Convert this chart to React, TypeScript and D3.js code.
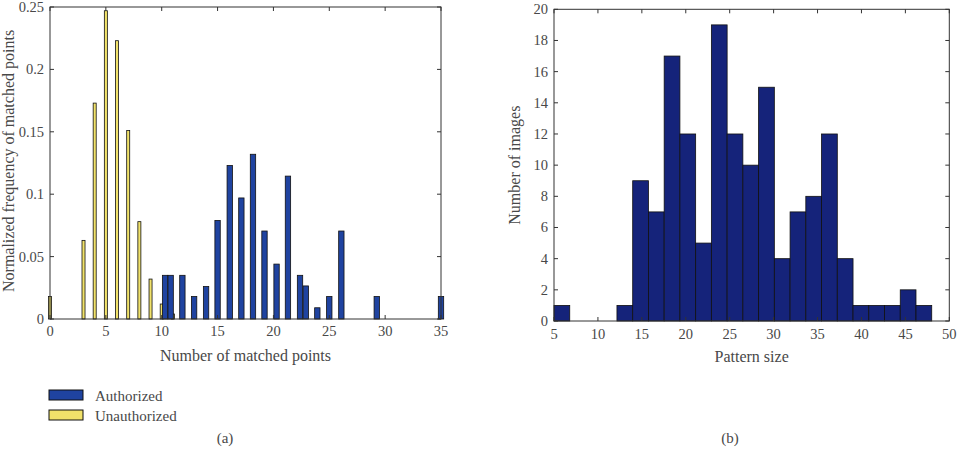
import React from "react";
import * as d3 from "d3";

// Panel (a): unauthorized histogram (integer positions)
const unauthX = [0, 1, 2, 3, 4, 5, 6, 7, 8, 9, 10, 11, 12, 13, 14, 15, 16, 17, 18, 19, 20, 21, 22, 23, 24, 25, 26, 27, 28, 29, 30, 31, 32, 33, 34, 35];
const unauthY = [0.018, 0, 0, 0.063, 0.173, 0.247, 0.223, 0.151, 0.078, 0.032, 0.012, 0.004, 0, 0, 0, 0, 0, 0, 0, 0, 0, 0, 0, 0, 0, 0, 0, 0, 0, 0, 0, 0, 0, 0, 0, 0];
// Panel (a): authorized histogram
const authX = [10.3, 10.8, 11.85, 12.9, 13.97, 15.0, 16.09, 17.13, 18.17, 19.2, 20.28, 21.3, 22.38, 22.9, 23.93, 25.0, 26.08, 29.25, 35.0];
const authY = [0.035, 0.035, 0.035, 0.018, 0.026, 0.079, 0.123, 0.097, 0.132, 0.0705, 0.044, 0.1145, 0.035, 0.0265, 0.009, 0.018, 0.0705, 0.018, 0.018];
const aXTicks = [0, 5, 10, 15, 20, 25, 30, 35];
const aYTicks = [0, 0.05, 0.1, 0.15, 0.2, 0.25];
const legendLabels = ["Authorized", "Unauthorized"];

// Panel (b): pattern size histogram (24 bins from 5 to 48)
const binRange = [5, 48];
const patternCounts = [1, 0, 0, 0, 1, 9, 7, 17, 12, 5, 19, 12, 10, 15, 4, 7, 8, 12, 4, 1, 1, 1, 2, 1];
const bXTicks = [5, 10, 15, 20, 25, 30, 35, 40, 45, 50];
const bYTicks = [0, 2, 4, 6, 8, 10, 12, 14, 16, 18, 20];

const BLUE = "#1f43a0";
const YELLOW = "#f1e26a";
const NAVY = "#15237a";
const AXIS = "#333";
const TXT = "#484848";
const FONT = "'Liberation Serif', 'Times New Roman', serif";

export default function App() {
  const ax = d3.scaleLinear().domain([0, 35]).range([50, 441]);
  const ay = d3.scaleLinear().domain([0, 0.25]).range([319, 7]);
  const bx = d3.scaleLinear().domain([5, 50]).range([554, 949.3]);
  const by = d3.scaleLinear().domain([0, 20]).range([321, 9.3]);

  const authW = 0.48;
  const unW = 0.27;
  const binW = (binRange[1] - binRange[0]) / patternCounts.length;
  const tick = 4;

  return (
    <svg width={959} height={450} style={{ position: "absolute", left: 0, top: 0, background: "#fff" }} fontFamily={FONT}>
      <rect x={0} y={0} width={959} height={450} fill="#fff" />
      {/* Panel (a) */}
      <g>
        {unauthX.map((x, i) =>
          unauthY[i] > 0 ? (
            <rect key={"u" + i} x={ax(x - unW / 2)} y={ay(unauthY[i])} width={ax(unW) - ax(0)} height={ay(0) - ay(unauthY[i])}
              fill={YELLOW} stroke="#111" strokeWidth={0.8} />
          ) : null
        )}
        {authX.map((x, i) => (
          <rect key={"a" + i} x={ax(x - authW / 2)} y={ay(authY[i])} width={ax(authW) - ax(0)} height={ay(0) - ay(authY[i])}
            fill={BLUE} stroke="#111" strokeWidth={0.8} />
        ))}
        <rect x={ax(0)} y={ay(0.25)} width={ax(35) - ax(0)} height={ay(0) - ay(0.25)} fill="none" stroke={AXIS} strokeWidth={1} />
        {aXTicks.map((t) => (
          <g key={"axt" + t}>
            <line x1={ax(t)} x2={ax(t)} y1={ay(0)} y2={ay(0) - tick} stroke={AXIS} />
            <line x1={ax(t)} x2={ax(t)} y1={ay(0.25)} y2={ay(0.25) + tick} stroke={AXIS} />
            <text x={ax(t)} y={ay(0) + 17} textAnchor="middle" fontSize={14.5} fill={TXT}>{t}</text>
          </g>
        ))}
        {aYTicks.map((t) => (
          <g key={"ayt" + t}>
            <line x1={ax(0)} x2={ax(0) + tick} y1={ay(t)} y2={ay(t)} stroke={AXIS} />
            <line x1={ax(35)} x2={ax(35) - tick} y1={ay(t)} y2={ay(t)} stroke={AXIS} />
            <text x={44} y={ay(t) + 5} textAnchor="end" fontSize={14.5} fill={TXT}>{t}</text>
          </g>
        ))}
        <text x={(ax(0) + ax(35)) / 2} y={361} textAnchor="middle" fontSize={16} fill={TXT}>Number of matched points</text>
        <text transform={`translate(14,${292}) rotate(-90)`} textAnchor="start" fontSize={16} fill={TXT}>Normalized frequency of matched points</text>
        {legendLabels.map((l, i) => (
          <g key={l}>
            <rect x={49} y={390 + i * 20} width={34} height={10} fill={i === 0 ? BLUE : YELLOW} stroke="#111" strokeWidth={1} />
            <text x={95} y={401 + i * 20} fontSize={15} fill={TXT}>{l}</text>
          </g>
        ))}
        <text x={225} y={443} textAnchor="middle" fontSize={15} fill={TXT}>(a)</text>
      </g>
      {/* Panel (b) */}
      <g>
        {patternCounts.map((c, i) => {
          const x0 = binRange[0] + i * binW;
          return c > 0 ? (
            <rect key={"b" + i} x={bx(x0)} y={by(c)} width={bx(x0 + binW) - bx(x0)} height={by(0) - by(c)}
              fill={NAVY} stroke="#111" strokeWidth={0.8} />
          ) : null;
        })}
        <rect x={bx(5)} y={by(20)} width={bx(50) - bx(5)} height={by(0) - by(20)} fill="none" stroke={AXIS} strokeWidth={1} />
        {bXTicks.map((t) => (
          <g key={"bxt" + t}>
            <line x1={bx(t)} x2={bx(t)} y1={by(0)} y2={by(0) - tick} stroke={AXIS} />
            <line x1={bx(t)} x2={bx(t)} y1={by(20)} y2={by(20) + tick} stroke={AXIS} />
            <text x={bx(t)} y={by(0) + 18} textAnchor="middle" fontSize={14.5} fill={TXT}>{t}</text>
          </g>
        ))}
        {bYTicks.map((t) => (
          <g key={"byt" + t}>
            <line x1={bx(5)} x2={bx(5) + tick} y1={by(t)} y2={by(t)} stroke={AXIS} />
            <line x1={bx(50)} x2={bx(50) - tick} y1={by(t)} y2={by(t)} stroke={AXIS} />
            <text x={548} y={by(t) + 5} textAnchor="end" fontSize={14.5} fill={TXT}>{t}</text>
          </g>
        ))}
        <text x={(bx(5) + bx(50)) / 2} y={362} textAnchor="middle" fontSize={16} fill={TXT}>Pattern size</text>
        <text transform={`translate(520,${(by(0) + by(20)) / 2}) rotate(-90)`} textAnchor="middle" fontSize={16} fill={TXT}>Number of images</text>
        <text x={730} y={443} textAnchor="middle" fontSize={15} fill={TXT}>(b)</text>
      </g>
    </svg>
  );
}
